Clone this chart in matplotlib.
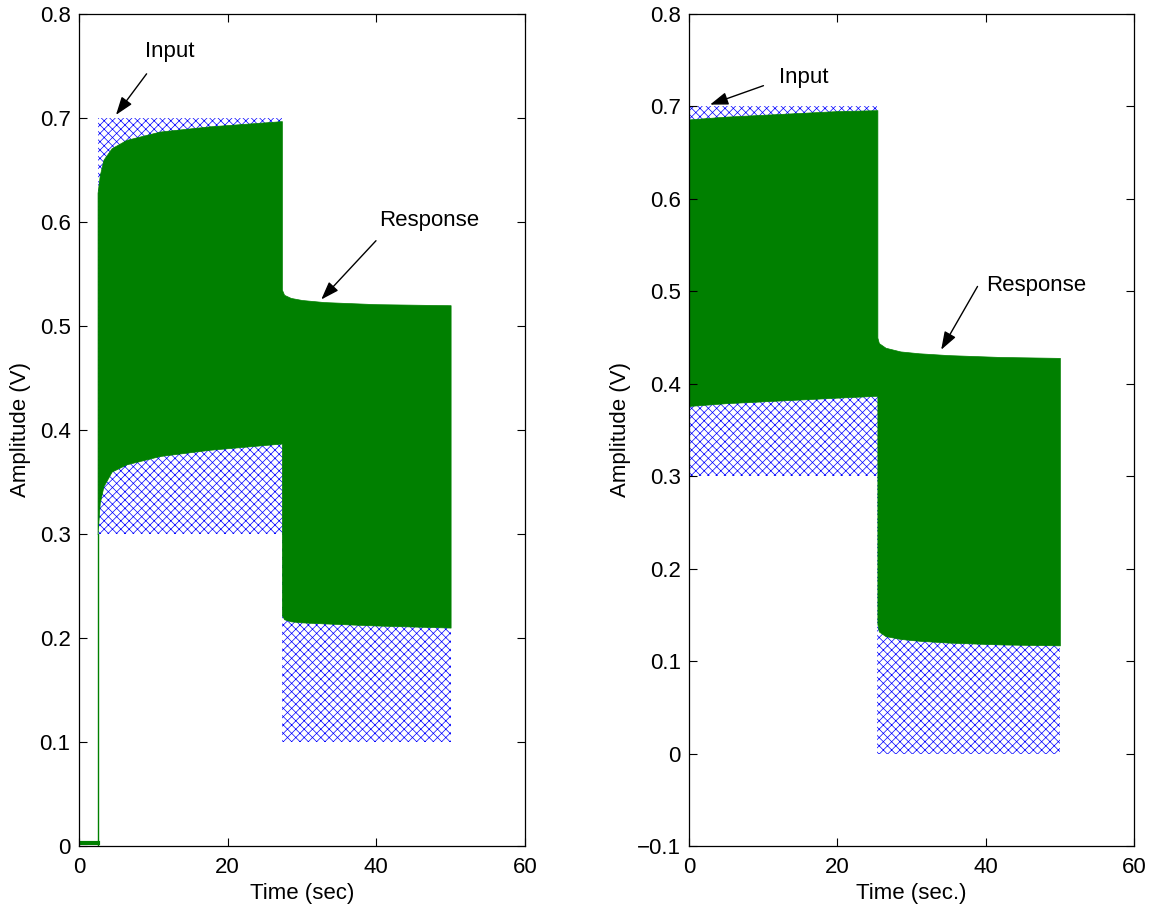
import matplotlib
matplotlib.use('Agg')
import matplotlib.pyplot as plt
from matplotlib.ticker import FuncFormatter

plt.rcParams['font.family'] = ['Liberation Sans', 'DejaVu Sans']
plt.rcParams['hatch.linewidth'] = 0.5

GREEN = '#008000'
BLUE = '#0000ff'
FS = 16

# ---- left panel (step input with a zero lead-in) ----
left_in_t = [2.5, 27.3, 27.3, 50]
left_in_lo = [0.3, 0.3, 0.1, 0.1]
left_in_hi = [0.7, 0.7, 0.5, 0.5]

left_pre_t = [0, 2.5]
left_pre_y = [0.003, 0.003]

left_resp_t = [2.5, 2.8, 3.3, 4.4, 6.4, 10.9, 17.6, 27.3,
               27.3, 27.6, 28.5, 30, 33, 40, 50]
left_resp_hi = [0.628, 0.645, 0.660, 0.671, 0.679, 0.687, 0.692, 0.697,
                0.535, 0.530, 0.527, 0.525, 0.523, 0.521, 0.520]
left_resp_lo = [0.300, 0.330, 0.346, 0.360, 0.367, 0.375, 0.381, 0.387,
                0.222, 0.218, 0.216, 0.215, 0.214, 0.212, 0.210]

# ---- right panel ----
right_in_t = [0, 25.4, 25.4, 50]
right_in_lo = [0.3, 0.3, 0.0, 0.0]
right_in_hi = [0.7, 0.7, 0.4, 0.4]

right_resp_t = [0, 5, 10, 15, 20, 25.4,
                25.4, 25.6, 26.5, 28.5, 31, 35, 42, 50]
right_resp_hi = [0.686, 0.689, 0.691, 0.693, 0.695, 0.696,
                 0.450, 0.444, 0.439, 0.435, 0.433, 0.431, 0.429, 0.428]
right_resp_lo = [0.376, 0.379, 0.381, 0.383, 0.385, 0.387,
                 0.140, 0.132, 0.127, 0.124, 0.122, 0.120, 0.118, 0.117]


def fmt(v, pos):
    s = f'{v:g}'
    if v < -1e-9:
        s = '\u2212' + s[1:]
    if abs(v) < 1e-9:
        s = '0'
    return s


def style_axes(ax, yticks, ylim, xlabel):
    ax.set_xlim(0, 60)
    ax.set_ylim(*ylim)
    ax.set_xticks([0, 20, 40, 60])
    ax.set_yticks(yticks)
    ax.yaxis.set_major_formatter(FuncFormatter(fmt))
    ax.tick_params(direction='in', length=6, width=0.8, top=True, right=True,
                   labelsize=FS)
    ax.tick_params(axis='x', pad=8)
    ax.tick_params(axis='y', pad=6)
    for sp in ax.spines.values():
        sp.set_linewidth(0.9)
    ax.set_xlabel(xlabel, fontsize=FS)
    ax.set_ylabel('Amplitude (V)', fontsize=FS)
    ax.xaxis.set_label_coords(0.5, -0.045)


def arrow(ax, label, text_xy, tail, tip):
    ax.annotate('', xy=tip, xytext=tail,
                arrowprops=dict(arrowstyle='-|>,head_length=1.0,head_width=0.35',
                                color='black', lw=1, mutation_scale=11,
                                shrinkA=0, shrinkB=0))
    ax.text(text_xy[0], text_xy[1], label, ha='center', va='center', fontsize=FS)


fig = plt.figure(figsize=(11.56, 9.11), dpi=100)
ax1 = fig.add_axes([0.0683, 0.0714, 0.3858, 0.9132])
ax2 = fig.add_axes([0.5960, 0.0714, 0.3850, 0.9132])

# left
ax1.fill_between(left_in_t, left_in_lo, left_in_hi, facecolor='white',
                 edgecolor=BLUE, hatch='xxxx', linewidth=0)
ax1.plot([left_pre_t[-1], left_pre_t[-1]], [0, left_in_lo[0]], color=GREEN, lw=1)
ax1.plot(left_pre_t, left_pre_y, color=GREEN, lw=3)
ax1.fill_between(left_resp_t, left_resp_lo, left_resp_hi, color=GREEN, lw=0.5)
style_axes(ax1, [0, 0.1, 0.2, 0.3, 0.4, 0.5, 0.6, 0.7, 0.8], (0, 0.8), 'Time (sec)')
ax1.yaxis.set_label_coords(-0.108, 0.5)
arrow(ax1, 'Input', (12.2, 0.764), (9.1, 0.7425), (4.98, 0.703))
arrow(ax1, 'Response', (47.1, 0.601), (39.96, 0.582), (32.6, 0.5255))

# right
ax2.fill_between(right_in_t, right_in_lo, right_in_hi, facecolor='white',
                 edgecolor=BLUE, hatch='xxxx', linewidth=0)
ax2.fill_between(right_resp_t, right_resp_lo, right_resp_hi, color=GREEN, lw=0.5)
style_axes(ax2, [-0.1, 0, 0.1, 0.2, 0.3, 0.4, 0.5, 0.6, 0.7, 0.8], (-0.1, 0.8),
           'Time (sec.)')
ax2.yaxis.set_label_coords(-0.131, 0.5)
arrow(ax2, 'Input', (15.5, 0.731), (10.04, 0.7225), (2.84, 0.702))
arrow(ax2, 'Response', (46.8, 0.506), (38.9, 0.5053), (34.0, 0.4368))

fig.savefig('out.png', dpi=100)
